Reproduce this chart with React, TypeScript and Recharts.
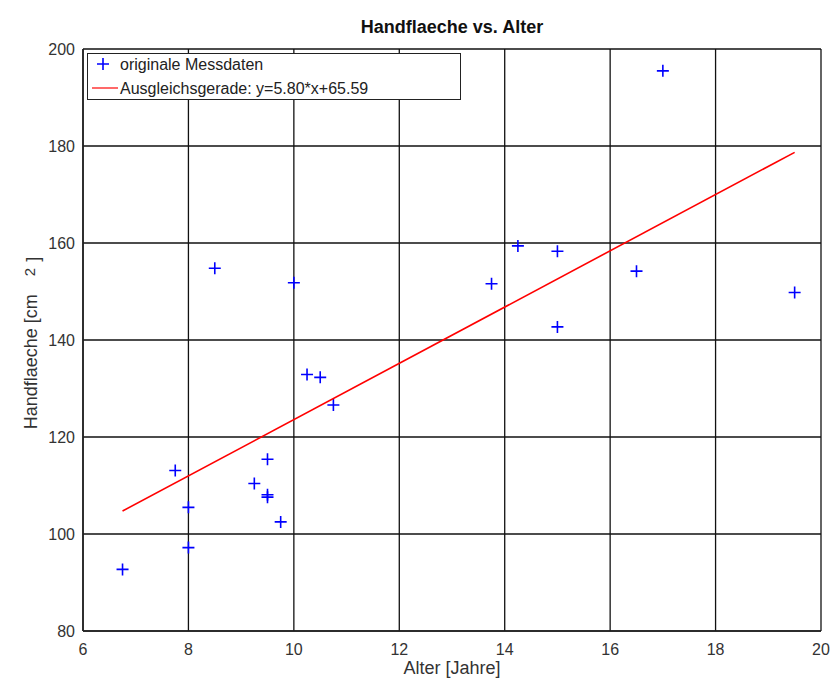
import { CartesianGrid, Label, Scatter, ScatterChart, XAxis, YAxis } from "recharts";

// Alter [Jahre] und Handflaeche [cm^2] der Messungen
const alter = [6.75, 7.75, 8, 8, 8.5, 9.25, 9.5, 9.5, 9.5, 9.75, 10, 10.25, 10.5, 10.75, 13.75, 14.25, 15, 15, 16.5, 17, 19.5];
const flaeche = [92.7, 113.1, 105.5, 97.2, 154.8, 110.4, 115.4, 108.1, 107.6, 102.5, 151.8, 132.9, 132.3, 126.6, 151.6, 159.4, 158.3, 142.7, 154.2, 195.5, 149.8];

// Endpunkte der Ausgleichsgerade
const fitX = [6.75, 19.5];
const fitY = [104.74, 178.69];

const xTicks = [6, 8, 10, 12, 14, 16, 18, 20];
const yTicks = [80, 100, 120, 140, 160, 180, 200];

const seriesNames = ["originale Messdaten", "Ausgleichsgerade: y=5.80*x+65.59"];

const messdaten = alter.map((x, i) => ({ x, y: flaeche[i] }));
const gerade = fitX.map((x, i) => ({ x, y: fitY[i] }));

const FONT = "'Liberation Sans', Arial, sans-serif";

function Plus(props: any) {
  const { cx, cy } = props;
  return (
    <path
      d={`M${cx - 6},${cy}h12M${cx},${cy - 6}v12`}
      stroke="#0000ff"
      strokeWidth={1.6}
      fill="none"
    />
  );
}

function YLabel(props: any) {
  const vb = props.viewBox;
  const cx = vb.x + 37;
  const cy = vb.y + vb.height / 2 + 3;
  return (
    <text
      x={cx}
      y={cy}
      transform={`rotate(-90, ${cx}, ${cy})`}
      textAnchor="middle"
      fontFamily={FONT}
      fontSize={18}
      fill="#333"
    >
      <tspan>Handflaeche [cm</tspan>
      <tspan dx={18} dy={-2} fontSize={15}>2</tspan>
      <tspan dx={6} dy={4}>]</tspan>
    </text>
  );
}

export default function App() {
  return (
    <div style={{ position: "relative", width: 831, height: 680, background: "#fff" }}>
      <style>{"body{margin:0}"}</style>
      <div
        style={{
          position: "absolute",
          left: 83,
          width: 738,
          top: 17,
          textAlign: "center",
          fontFamily: FONT,
          fontWeight: "bold",
          fontSize: 18,
          color: "#111",
        }}
      >
        Handflaeche vs. Alter
      </div>
      <ScatterChart
        width={831}
        height={680}
        margin={{ top: 49, right: 10, bottom: 0, left: 0 }}
      >
        <CartesianGrid stroke="#111" strokeWidth={1.3} />
        <XAxis
          type="number"
          dataKey="x"
          domain={[6, 20]}
          ticks={xTicks}
          height={49}
          tickLine={false}
          tickSize={0}
          tickMargin={13}
          axisLine={{ stroke: "#222", strokeWidth: 1.6 }}
          tick={{ fill: "#333", fontSize: 16, fontFamily: FONT }}
          allowDataOverflow
        >
          <Label
            value="Alter [Jahre]"
            position="insideBottom"
            offset={6}
            fill="#333"
            fontSize={18}
            fontFamily={FONT}
          />
        </XAxis>
        <YAxis
          type="number"
          dataKey="y"
          domain={[80, 200]}
          ticks={yTicks}
          width={83}
          tickLine={false}
          tickSize={0}
          tickMargin={8}
          axisLine={{ stroke: "#222", strokeWidth: 1.6 }}
          tick={{ fill: "#333", fontSize: 16, fontFamily: FONT }}
          allowDataOverflow
        >
          <Label content={<YLabel />} />
        </YAxis>
        <Scatter
          name={seriesNames[0]}
          data={messdaten}
          shape={<Plus />}
          isAnimationActive={false}
        />
        <Scatter
          name={seriesNames[1]}
          data={gerade}
          line={{ stroke: "#ff0000", strokeWidth: 1.6 }}
          lineType="joint"
          shape={() => <g />}
          isAnimationActive={false}
        />
      </ScatterChart>
      <div
        style={{
          position: "absolute",
          left: 87,
          top: 53,
          width: 372,
          height: 45,
          border: "1.5px solid #222",
          background: "#fff",
          fontFamily: FONT,
          fontSize: 16,
          color: "#222",
          boxSizing: "content-box",
        }}
      >
        <div style={{ position: "absolute", left: 8, top: 0, height: 22, display: "flex", alignItems: "center" }}>
          <svg width={24} height={22}>
            <path d="M1,10h12M7,4v12" stroke="#0000ff" strokeWidth={1.6} fill="none" />
          </svg>
          <span>{seriesNames[0]}</span>
        </div>
        <div style={{ position: "absolute", left: 2, top: 24, height: 22, display: "flex", alignItems: "center" }}>
          <svg width={30} height={22}>
            <line x1={2} x2={28} y1={10} y2={10} stroke="#ff4444" strokeWidth={1.6} />
          </svg>
          <span>{seriesNames[1]}</span>
        </div>
      </div>
    </div>
  );
}
